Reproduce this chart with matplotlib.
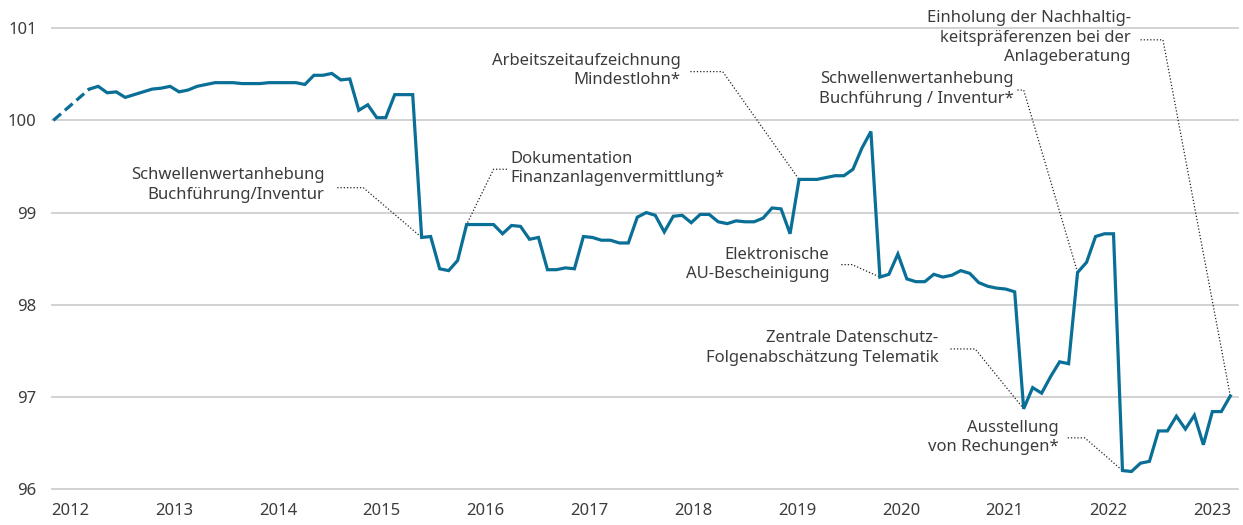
import numpy as np
import matplotlib
matplotlib.use("Agg")
import matplotlib.pyplot as plt

plt.rcParams['font.family'] = ['Noto Sans', 'DejaVu Sans']

# Buerokratiekostenindex, monthly, first point = 100 (months 1-3 missing -> dashed)
values = [
    100.00, None, None, None, 100.34, 100.37, 100.30, 100.31, 100.25, 100.28,
    100.31, 100.34, 100.35, 100.37, 100.31, 100.33, 100.37, 100.39, 100.41, 100.41,
    100.41, 100.40, 100.40, 100.40, 100.41, 100.41, 100.41, 100.41, 100.39, 100.49,
    100.49, 100.51, 100.44, 100.45, 100.11, 100.17, 100.03, 100.03, 100.28, 100.28,
    100.28, 98.73, 98.74, 98.39, 98.37, 98.48, 98.87, 98.87, 98.87, 98.87,
    98.77, 98.86, 98.85, 98.71, 98.73, 98.38, 98.38, 98.40, 98.39, 98.74,
    98.73, 98.70, 98.70, 98.67, 98.67, 98.95, 99.00, 98.97, 98.79, 98.96,
    98.97, 98.89, 98.98, 98.98, 98.90, 98.88, 98.91, 98.90, 98.90, 98.94,
    99.05, 99.04, 98.77, 99.36, 99.36, 99.36, 99.38, 99.40, 99.40, 99.47,
    99.70, 99.88, 98.30, 98.33, 98.55, 98.28, 98.25, 98.25, 98.33, 98.30,
    98.32, 98.37, 98.34, 98.24, 98.20, 98.18, 98.17, 98.14, 96.87, 97.10,
    97.04, 97.22, 97.38, 97.36, 98.35, 98.46, 98.74, 98.77, 98.77, 96.20,
    96.19, 96.28, 96.30, 96.63, 96.63, 96.79, 96.65, 96.80, 96.48, 96.84,
    96.84, 97.01,
]
years = [str(y) for y in range(2012, 2024)]
y_ticks = [96, 97, 98, 99, 100, 101]

# text, alignment, text x, text y, stub start x, elbow x, stub y, index of point
notes = [
    ("Schwellenwertanhebung\nBuchführung/Inventur", "right", 30.2, 99.30, 31.6, 34.5, 99.27, 41),
    ("Dokumentation\nFinanzanlagenvermittlung*", "left", 50.9, 99.48, 50.5, 49.0, 99.47, 46),
    ("Arbeitszeitaufzeichnung\nMindestlohn*", "right", 69.8, 100.54, 70.9, 74.5, 100.53, 83),
    ("Schwellenwertanhebung\nBuchführung / Inventur*", "right", 106.9, 100.34, 107.3, 108.0, 100.33, 114),
    ("Einholung der Nachhaltig-\nkeitspräferenzen bei der\nAnlageberatung", "right", 119.9, 100.90, 121.0, 123.5, 100.875, 131),
    ("Elektronische\nAU-Bescheinigung", "right", 86.4, 98.435, 87.7, 88.9, 98.435, 92),
    ("Zentrale Datenschutz-\nFolgenabschätzung Telematik", "right", 98.5, 97.53, 99.85, 102.6, 97.52, 108),
    ("Ausstellung\nvon Rechungen*", "right", 111.9, 96.56, 112.9, 114.8, 96.555, 119),
]

blue = '#0a6f96'
txt = '#3c3c3c'

vals = np.array([np.nan if v is None else v for v in values])
months = np.arange(len(vals))
gap_end = 4

fig = plt.figure(figsize=(12.43, 5.25), dpi=100)
ax = fig.add_axes([0.0418, 0.0686, 0.9545, 0.8775])

ax.plot(months[[0, gap_end]], vals[[0, gap_end]], color=blue, lw=2.3,
        linestyle=(0, (3.2, 1.6)), solid_capstyle='butt', zorder=3)
ax.plot(months[gap_end:], vals[gap_end:], color=blue, lw=2.3, zorder=3,
        solid_joinstyle='miter')

for text, ha, tx, ty, sx0, sx1, sy, idx in notes:
    ax.text(tx, ty, text, ha=ha, va='center', fontsize=12, color=txt,
            linespacing=1.3, clip_on=False)
    ax.plot([sx0, sx1, months[idx]], [sy, sy, vals[idx]], color='#222222',
            lw=0.9, linestyle=(0, (1, 1.6)), clip_on=False, zorder=2)

ax.set_xlim(-0.15, 131.9)
ax.set_ylim(96, 101)
ax.set_yticks(y_ticks)
ax.set_yticklabels([str(t) for t in y_ticks])
ax.set_xticks(np.linspace(1.9, 129.0, len(years)))
ax.set_xticklabels(years)
ax.tick_params(length=0, labelsize=12, labelcolor=txt)
ax.tick_params(axis='y', pad=11)
ax.tick_params(axis='x', pad=10)
ax.grid(axis='y', color='#cfcfcf', lw=1.3)
for gl in ax.get_ygridlines():
    gl.set_clip_on(False)
ax.set_axisbelow(True)
for s in ax.spines.values():
    s.set_visible(False)

fig.savefig("out.png", dpi=100)
